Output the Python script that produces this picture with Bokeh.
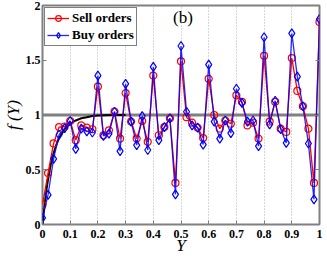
from bokeh.plotting import figure
from bokeh.models import Range1d, Label, LinearAxis, FixedTicker, Legend, LegendItem, CustomJSTickFormatter
from bokeh.embed import file_html
from bokeh.resources import INLINE

y_pos = [0.00, 0.02, 0.04, 0.06, 0.08, 0.10, 0.12, 0.14, 0.16, 0.18,
         0.20, 0.22, 0.24, 0.26, 0.28, 0.30, 0.32, 0.34, 0.36, 0.38,
         0.40, 0.42, 0.44, 0.46, 0.48, 0.50, 0.52, 0.54, 0.56, 0.58,
         0.60, 0.62, 0.64, 0.66, 0.68, 0.70, 0.72, 0.74, 0.76, 0.78,
         0.80, 0.82, 0.84, 0.86, 0.88, 0.90, 0.92, 0.94, 0.96, 0.98, 1.00]

sell_orders = [0.18, 0.47, 0.74, 0.89, 0.895, 0.945, 0.77, 0.905, 0.885, 0.87,
               1.26, 0.815, 0.86, 1.03, 0.785, 1.20, 0.94, 0.785, 0.945, 0.755,
               1.36, 0.815, 0.89, 0.97, 0.38, 1.49, 0.98, 0.93, 0.885, 0.79,
               1.33, 1.00, 0.875, 0.95, 0.92, 1.18, 1.12, 0.905, 0.93, 0.785,
               1.54, 0.94, 1.12, 0.875, 0.845, 1.52, 1.22, 1.08, 0.875, 0.38, 1.85]

buy_orders = [0.06, 0.27, 0.60, 0.82, 0.88, 0.945, 0.69, 0.875, 0.85, 0.84,
              1.36, 0.81, 0.83, 1.03, 0.67, 1.285, 0.94, 0.725, 0.99, 0.68,
              1.44, 0.77, 0.89, 0.97, 0.275, 1.63, 1.03, 0.905, 0.885, 0.73,
              1.46, 0.94, 0.785, 0.95, 0.835, 1.24, 1.11, 0.94, 0.95, 0.715,
              1.71, 0.915, 1.13, 0.87, 0.745, 1.745, 1.35, 1.08, 0.74, 0.23, 1.875]

# theoretical curve
curve_x = [0.0, 0.005, 0.01, 0.015, 0.02, 0.03, 0.04, 0.05, 0.06, 0.08,
           0.10, 0.12, 0.14, 0.16, 0.18, 0.20, 0.25, 0.30]
curve_y = [0.0, 0.12, 0.23, 0.33, 0.41, 0.55, 0.65, 0.73, 0.79, 0.87,
           0.92, 0.95, 0.97, 0.98, 0.99, 0.995, 1.0, 1.0]

level_x = [0.0, 1.0]
level_y = [1.0, 1.0]

x_ticks = [0, 0.1, 0.2, 0.3, 0.4, 0.5, 0.6, 0.7, 0.8, 0.9, 1]
x_tick_labels = ["0", "0.1", "0.2", "0.3", "0.4", "0.5", "0.6", "0.7", "0.8", "0.9", "1"]
y_ticks = [0, 0.5, 1, 1.5, 2]
y_tick_labels = ["0", "0.5", "1", "1.5", "2"]

SERIF = "Liberation Serif"
GRAY = "#808080"

p = figure(frame_width=277, frame_height=219, output_backend="svg", toolbar_location=None,
           x_range=Range1d(0, 1), y_range=Range1d(0, 2),
           min_border_left=4, min_border_right=4, min_border_top=5, min_border_bottom=0)
p.background_fill_color = "white"
p.border_fill_color = "white"
p.outline_line_color = GRAY
p.outline_line_width = 2

for ax, ticks, labels in ((p.xaxis[0], x_ticks, x_tick_labels), (p.yaxis[0], y_ticks, y_tick_labels)):
    ax.ticker = FixedTicker(ticks=ticks)
    ax.major_label_overrides = {t: l for t, l in zip(ticks, labels)}
    ax.major_label_text_font = SERIF
    ax.major_label_text_font_style = "bold"
    ax.major_label_text_font_size = "12px"
    ax.major_label_text_color = "black"
    ax.major_tick_in = 4
    ax.major_tick_out = 0
    ax.minor_tick_in = 0
    ax.minor_tick_out = 0
    ax.major_tick_line_color = GRAY
    ax.axis_line_color = None
    ax.axis_label_text_font = SERIF
    ax.axis_label_text_font_style = "italic"
    ax.axis_label_text_font_size = "17px"
    ax.axis_label_text_color = "black"

p.xaxis[0].axis_label = "Y"
p.xaxis[0].major_label_standoff = 5
p.xaxis[0].axis_label_standoff = -5
p.yaxis[0].axis_label = "f (Y)"
p.yaxis[0].major_label_standoff = 2
p.yaxis[0].axis_label_standoff = 0

p.xgrid.ticker = FixedTicker(ticks=x_ticks[1:-1])
p.xgrid.grid_line_color = "#b0b0b0"
p.xgrid.grid_line_dash = "1 2"
p.xgrid.grid_line_width = 1
p.ygrid.grid_line_color = None

# right axis with inward ticks only
blank = CustomJSTickFormatter(code="return ''")
r_ax = LinearAxis(ticker=FixedTicker(ticks=y_ticks), formatter=blank,
                  major_tick_in=4, major_tick_out=0, minor_tick_in=0, minor_tick_out=0,
                  major_tick_line_color=GRAY, axis_line_color=None,
                  major_label_text_font_size="1px", major_label_standoff=0)
p.add_layout(r_ax, "right")

# reference lines
p.line(level_x, level_y, line_color=GRAY, line_width=3)
p.line(curve_x, curve_y, line_color="black", line_width=2)

r_line = p.line(y_pos, sell_orders, line_color="red", line_width=1.3)
r_mark = p.scatter(y_pos, sell_orders, marker="circle", size=7, line_color="red",
                   fill_color=None, line_width=1.2)
b_line = p.line(y_pos, buy_orders, line_color="blue", line_width=1.3, line_alpha=0.85)
b_mark = p.scatter(y_pos, buy_orders, marker="diamond", size=9, line_color="blue",
                   fill_color=None, line_width=1.2)

legend = Legend(items=[LegendItem(label="Sell orders", renderers=[r_line, r_mark]),
                       LegendItem(label="Buy orders", renderers=[b_line, b_mark])],
                location="top_left")
legend.label_text_font = SERIF
legend.label_text_font_style = "bold"
legend.label_text_font_size = "13px"
legend.label_text_color = "black"
legend.border_line_color = "black"
legend.border_line_width = 1
legend.background_fill_color = "white"
legend.background_fill_alpha = 1
legend.glyph_width = 22
legend.glyph_height = 14
legend.label_height = 14
legend.spacing = 1
legend.padding = 2
legend.margin = 2
legend.label_standoff = 3
p.add_layout(legend, "center")

p.add_layout(Label(x=0.507, y=1.89, text="(b)", text_font=SERIF, text_font_size="17px",
                   text_align="center", text_baseline="middle", text_color="black"))

open("out.html", "w").write(file_html(p, INLINE))
